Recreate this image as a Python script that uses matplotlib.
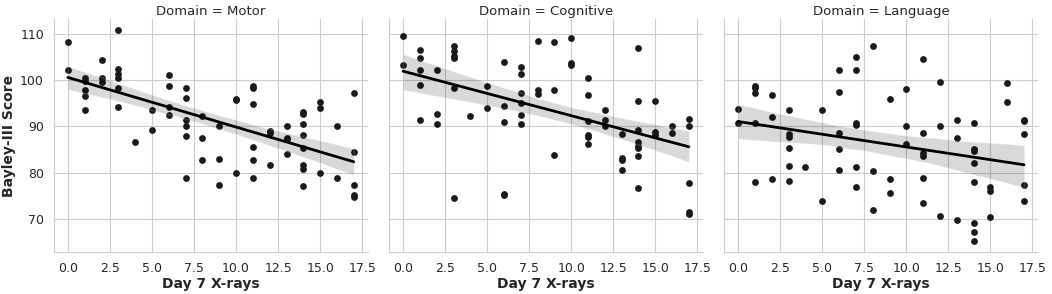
import numpy as np
import pandas as pd
import matplotlib
matplotlib.use("Agg")
import matplotlib.pyplot as plt
import seaborn as sns

# Day 7 X-ray counts and Bayley-III scores
motor_x = [0, 0, 1, 1, 1, 1, 1, 2, 2, 2, 3, 3, 3, 3, 3, 3, 4, 5, 5,
           6, 6, 6, 6, 7, 7, 7, 7, 7, 7, 8, 8, 8, 9, 9, 9, 10, 10, 10,
           11, 11, 11, 11, 11, 11, 12, 12, 12, 13, 13, 13, 13,
           14, 14, 14, 14, 14, 14, 14, 14, 15, 15, 15, 16, 16,
           17, 17, 17, 17, 17]
motor_y = [108.4, 102.3, 100.4, 99.9, 97.9, 96.7, 93.6, 104.3, 100.4, 99.7,
           110.9, 102.5, 101.4, 100.4, 98.4, 94.3, 86.6, 93.6, 89.3,
           101.2, 98.8, 94.2, 92.5, 98.3, 96.1, 91.3, 90.2, 88.0, 78.9,
           92.3, 87.4, 82.7, 90.0, 83.0, 77.4, 95.7, 95.9, 79.9,
           98.7, 98.3, 94.9, 85.6, 82.8, 78.9, 89.0, 88.5, 81.7,
           90.2, 87.6, 87.2, 84.1,
           93.1, 92.7, 90.5, 88.2, 85.3, 81.6, 80.8, 77.0, 95.3, 93.9, 80.0,
           90.0, 78.8, 97.2, 84.4, 77.3, 75.2, 74.8]

cog_x = [0, 0, 1, 1, 1, 1, 1, 2, 2, 2, 3, 3, 3, 3, 3, 3, 4, 5, 5,
         6, 6, 6, 6, 6, 7, 7, 7, 7, 7, 7, 8, 8, 8, 9, 9, 9, 10, 10, 10,
         11, 11, 11, 11, 11, 11, 12, 12, 12, 13, 13, 13, 13,
         14, 14, 14, 14, 14, 14, 14, 14, 15, 15, 15, 16, 16,
         17, 17, 17, 17, 17]
cog_y = [109.7, 103.3, 106.5, 104.9, 102.3, 98.9, 91.3, 102.3, 92.8, 90.6,
         107.4, 106.4, 105.3, 104.9, 98.3, 74.4, 92.3, 98.8, 94.1,
         103.9, 94.4, 90.9, 75.1, 75.4, 102.9, 101.3, 97.3, 95.1, 92.5, 90.5,
         108.5, 97.9, 97.0, 108.2, 97.9, 83.9, 109.2, 103.8, 103.4,
         100.4, 96.9, 91.2, 88.1, 87.7, 86.1, 93.6, 91.5, 90.1,
         88.3, 83.2, 82.8, 80.6,
         106.9, 95.5, 89.2, 86.7, 85.7, 85.3, 83.7, 76.7, 95.5, 88.7, 88.1,
         90.1, 88.5, 91.7, 90.1, 77.7, 71.5, 71.1]

lang_x = [0, 0, 1, 1, 1, 1, 1, 2, 2, 2, 3, 3, 3, 3, 3, 3, 4, 5, 5,
          6, 6, 6, 6, 6, 7, 7, 7, 7, 7, 7, 8, 8, 8, 9, 9, 9, 10, 10, 10,
          11, 11, 11, 11, 11, 11, 12, 12, 12, 13, 13, 13,
          14, 14, 14, 14, 14, 14, 14, 14, 15, 15, 15, 16, 16,
          17, 17, 17, 17, 17]
lang_y = [93.8, 90.7, 98.8, 98.3, 97.3, 90.7, 77.9, 96.8, 92.1, 78.6,
          93.6, 88.4, 87.7, 85.4, 81.5, 78.1, 81.2, 93.6, 73.8,
          102.3, 97.5, 88.6, 85.2, 80.6, 105.0, 102.3, 90.7, 90.3, 81.3, 76.8,
          107.4, 80.4, 71.8, 96.0, 78.6, 75.6, 98.1, 90.0, 86.3,
          104.6, 88.6, 84.2, 83.5, 78.9, 73.4, 99.6, 90.0, 70.7,
          91.4, 87.6, 69.7,
          90.8, 85.1, 84.6, 82.0, 77.9, 69.0, 67.2, 65.1, 76.8, 76.0, 70.3,
          99.4, 95.2, 91.3, 91.2, 88.4, 77.3, 73.8]

domains = ["Motor", "Cognitive", "Language"]

df = pd.concat([
    pd.DataFrame({"Day 7 X-rays": motor_x, "Bayley-III Score": motor_y, "Domain": "Motor"}),
    pd.DataFrame({"Day 7 X-rays": cog_x, "Bayley-III Score": cog_y, "Domain": "Cognitive"}),
    pd.DataFrame({"Day 7 X-rays": lang_x, "Bayley-III Score": lang_y, "Domain": "Language"}),
], ignore_index=True)

sns.set_style("whitegrid", {"grid.color": "#cccccc", "axes.edgecolor": "#cccccc"})
plt.rcParams["font.family"] = ["DejaVu Sans"]

fig, axes = plt.subplots(1, 3, figsize=(10.52, 2.94), dpi=100, sharex=True, sharey=True)
fig.subplots_adjust(left=0.051, right=0.987, bottom=0.143, top=0.934, wspace=0.066)

for ax, dom in zip(axes, domains):
    sub = df[df["Domain"] == dom]
    sns.regplot(data=sub, x="Day 7 X-rays", y="Bayley-III Score", ax=ax,
                color="black", seed=0,
                scatter_kws={"s": 24, "color": "#1a1a1a", "alpha": 1.0, "linewidths": 0},
                line_kws={"color": "black", "linewidth": 2.0})
    ax.set_title(f"Domain = {dom}", fontsize=9.5, color="#262626", pad=3)
    ax.set_xlabel("Day 7 X-rays", fontsize=10, fontweight="bold", labelpad=2)
    ax.set_ylabel("")
    ax.tick_params(labelsize=9, colors="#262626", length=0, pad=7)
    ax.set_xticks([0, 2.5, 5, 7.5, 10, 12.5, 15, 17.5])
    ax.set_yticks([70, 80, 90, 100, 110])
    for side in ["top", "right"]:
        ax.spines[side].set_visible(False)
    ax.grid(True, linewidth=0.8)

axes[0].set_ylabel("Bayley-III Score", fontsize=10, fontweight="bold", labelpad=3)
axes[0].set_xlim(-0.85, 17.85)

fig.savefig("out.png", dpi=100)
